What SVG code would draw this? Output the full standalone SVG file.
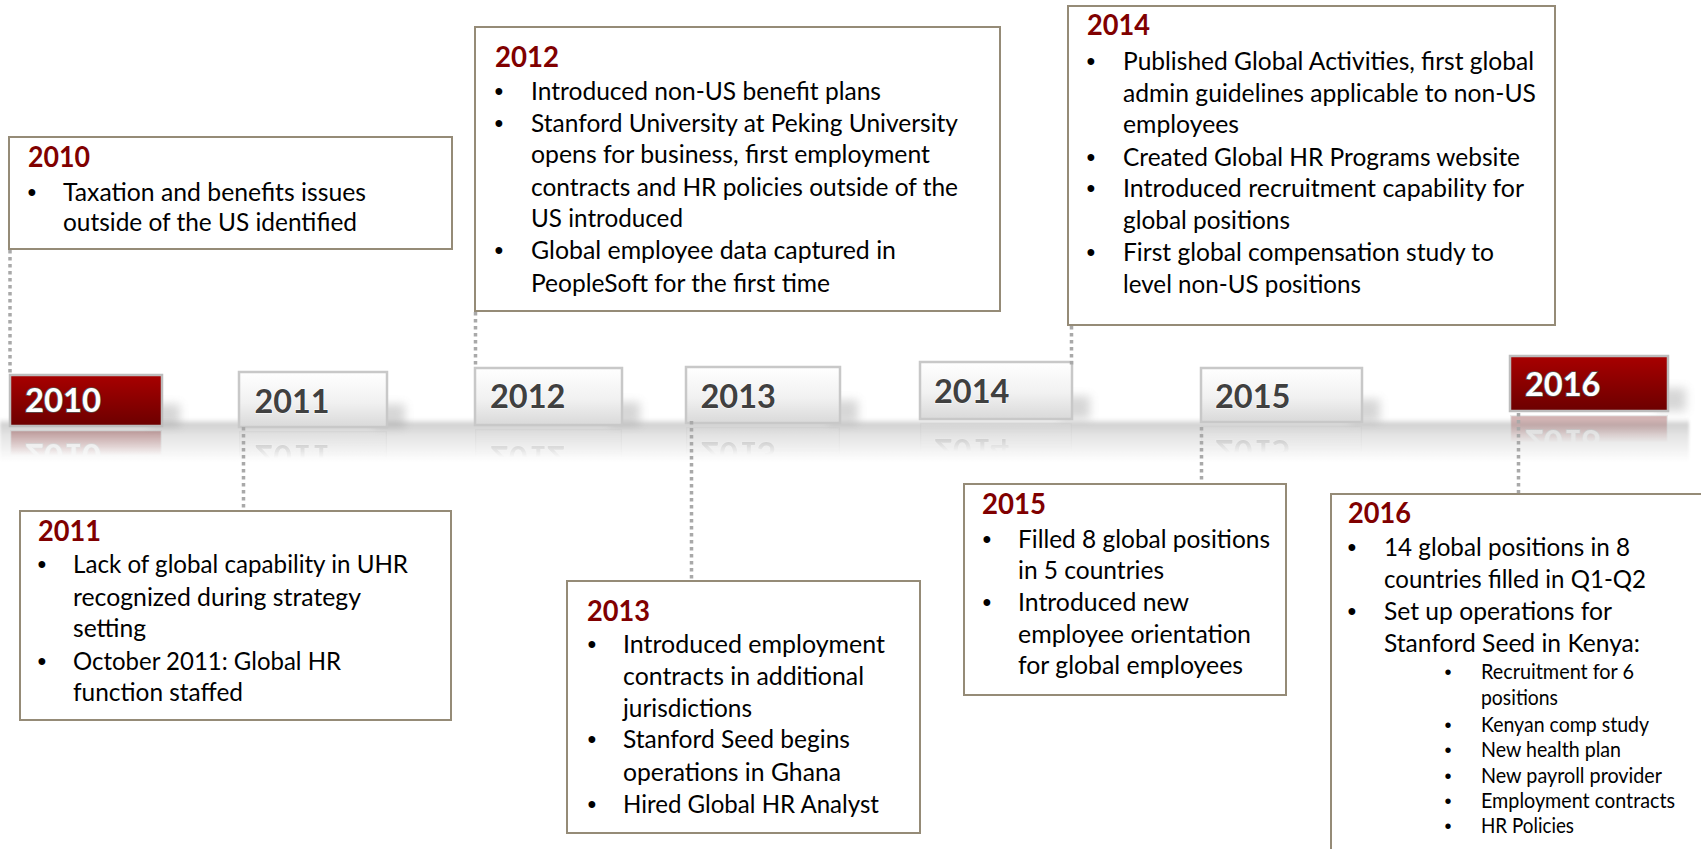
<svg xmlns="http://www.w3.org/2000/svg" xmlns:xlink="http://www.w3.org/1999/xlink" width="1701" height="849" viewBox="0 0 1701 849">
  <style>
    .box { fill: #ffffff; stroke: #958b77; stroke-width: 2; }
    .yr { font-family: Lato, "Open Sans", sans-serif; font-weight: bold; font-size: 28px; fill: #800000; }
    .tx { font-family: Lato, "Open Sans", sans-serif; font-size: 24.5px; fill: #000000; }
    .sm { font-family: Lato, "Open Sans", sans-serif; font-size: 20.5px; fill: #000000; }
    .bu { font-family: "Liberation Sans", Arial, sans-serif; font-size: 25px; fill: #000000; text-anchor: middle; }
    .bus { font-family: "Liberation Sans", Arial, sans-serif; font-size: 20px; fill: #000000; text-anchor: middle; }
    .lab { stroke: #c8c8c8; stroke-width: 2.5; }
    .labg { fill: url(#gGray); }
    .labr { fill: url(#gRed); stroke: #bdbdbd; }
    .ly { font-family: Lato, "Open Sans", sans-serif; font-weight: bold; font-size: 33px; fill: #404040; stroke: #ffffff; stroke-width: 1; paint-order: stroke; }
    .lyr { font-family: Lato, "Open Sans", sans-serif; font-weight: bold; font-size: 33px; fill: #ffffff; stroke: #555555; stroke-width: 1.6; paint-order: stroke; }
    .conn { fill: none; stroke: #a9a9a9; stroke-width: 3.5; stroke-dasharray: 3.5 3.5; }
    .shd { fill: #7a7a7a; opacity: 0.3; filter: url(#soft); }
  </style>
  <defs>
    <linearGradient id="gGray" x1="0" y1="0" x2="0" y2="1">
      <stop offset="0" stop-color="#ffffff"/>
      <stop offset="0.55" stop-color="#f1f1f1"/>
      <stop offset="1" stop-color="#d9d9d9"/>
    </linearGradient>
    <linearGradient id="gRed" x1="0" y1="0" x2="0" y2="1">
      <stop offset="0" stop-color="#a80000"/>
      <stop offset="1" stop-color="#6c0000"/>
    </linearGradient>
    <linearGradient id="gBand" x1="0" y1="0" x2="0" y2="1">
      <stop offset="0" stop-color="#ffffff"/>
      <stop offset="0.15" stop-color="#d2d2d2"/>
      <stop offset="0.4" stop-color="#e4e4e4"/>
      <stop offset="1" stop-color="#ffffff"/>
    </linearGradient>
    <linearGradient id="gFade" x1="0" y1="0" x2="0" y2="1">
      <stop offset="0" stop-color="#ffffff" stop-opacity="0"/>
      <stop offset="0.5" stop-color="#ffffff" stop-opacity="0"/>
      <stop offset="1" stop-color="#ffffff" stop-opacity="0.32"/>
    </linearGradient>
    <mask id="fade" maskContentUnits="objectBoundingBox">
      <rect x="0" y="0" width="1" height="1" fill="url(#gFade)"/>
    </mask>
    <filter id="soft" x="-50%" y="-50%" width="200%" height="200%">
      <feGaussianBlur stdDeviation="5"/>
    </filter>
    <filter id="bandBlur" x="-5%" y="-50%" width="110%" height="200%">
      <feGaussianBlur stdDeviation="1.5"/>
    </filter>
  </defs>

  <rect width="1701" height="849" fill="#ffffff"/>

  <!-- timeline band -->
  <rect x="0" y="418" width="1689" height="44" fill="url(#gBand)" filter="url(#bandBlur)"/>

  <!-- soft shadows cast to the right of the year labels -->
  <g id="label-shadows">
    <rect class="shd" x="150" y="404" width="30" height="22"/>
    <rect class="shd" x="375" y="404" width="30" height="23"/>
    <rect class="shd" x="610" y="402" width="30" height="23"/>
    <rect class="shd" x="828" y="400" width="30" height="23"/>
    <rect class="shd" x="1060" y="396" width="30" height="23"/>
    <rect class="shd" x="1350" y="399" width="30" height="23"/>
    <rect class="shd" x="1656" y="388" width="30" height="23"/>
  </g>

  <!-- year labels on the timeline -->
  <g id="lab-2010" transform="translate(10,375)">
    <rect class="lab labr" x="0" y="0" width="152" height="51"/>
    <text class="lyr" x="15" y="37" textLength="76" lengthAdjust="spacingAndGlyphs">2010</text>
  </g>
  <g id="lab-2011" transform="translate(239,372)">
    <rect class="lab labg" x="0" y="0" width="148" height="55"/>
    <text class="ly" x="15.5" y="40.7" textLength="75" lengthAdjust="spacingAndGlyphs">2011</text>
  </g>
  <g id="lab-2012" transform="translate(475,368)">
    <rect class="lab labg" x="0" y="0" width="147" height="57"/>
    <text class="ly" x="15" y="40.3" textLength="75.5" lengthAdjust="spacingAndGlyphs">2012</text>
  </g>
  <g id="lab-2013" transform="translate(686,367)">
    <rect class="lab labg" x="0" y="0" width="154" height="56"/>
    <text class="ly" x="14.5" y="41.3" textLength="75.5" lengthAdjust="spacingAndGlyphs">2013</text>
  </g>
  <g id="lab-2014" transform="translate(920,362)">
    <rect class="lab labg" x="0" y="0" width="152" height="57"/>
    <text class="ly" x="14" y="41.3" textLength="75.5" lengthAdjust="spacingAndGlyphs">2014</text>
  </g>
  <g id="lab-2015" transform="translate(1201,368)">
    <rect class="lab labg" x="0" y="0" width="161" height="54"/>
    <text class="ly" x="14" y="39.7" textLength="75.5" lengthAdjust="spacingAndGlyphs">2015</text>
  </g>
  <g id="lab-2016" transform="translate(1510,356)">
    <rect class="lab labr" x="0" y="0" width="158" height="55"/>
    <text class="lyr" x="15" y="40" textLength="75.5" lengthAdjust="spacingAndGlyphs">2016</text>
  </g>

  <!-- mirrored reflections under the labels -->
  <g id="reflections">
    <use xlink:href="#lab-2010" transform="translate(0,856) scale(1,-1)" mask="url(#fade)"/>
    <use xlink:href="#lab-2011" transform="translate(0,858) scale(1,-1)" mask="url(#fade)"/>
    <use xlink:href="#lab-2012" transform="translate(0,854) scale(1,-1)" mask="url(#fade)"/>
    <use xlink:href="#lab-2013" transform="translate(0,850) scale(1,-1)" mask="url(#fade)"/>
    <use xlink:href="#lab-2014" transform="translate(0,842) scale(1,-1)" mask="url(#fade)"/>
    <use xlink:href="#lab-2015" transform="translate(0,848) scale(1,-1)" mask="url(#fade)"/>
    <use xlink:href="#lab-2016" transform="translate(0,826) scale(1,-1)" mask="url(#fade)"/>
  </g>

  <!-- dotted leaders from labels to event boxes -->
  <g id="connectors">
    <line class="conn" x1="10" y1="250" x2="10" y2="375"/>
    <line class="conn" x1="243.5" y1="427" x2="243.5" y2="510"/>
    <line class="conn" x1="475.5" y1="312" x2="475.5" y2="368"/>
    <line class="conn" x1="691.5" y1="421" x2="691.5" y2="580"/>
    <line class="conn" x1="1071.5" y1="326" x2="1071.5" y2="367"/>
    <line class="conn" x1="1201.5" y1="427" x2="1201.5" y2="483"/>
    <line class="conn" x1="1518.5" y1="413" x2="1518.5" y2="493"/>
  </g>

  <!-- event boxes -->
  <g id="box-2010">
    <rect class="box" x="9" y="137" width="443" height="112"/>
    <text class="yr" x="28" y="166.7" textLength="62" lengthAdjust="spacingAndGlyphs">2010</text>
    <text class="bu" x="32" y="200.7">•</text>
    <text class="tx" x="63" y="200.7" textLength="303" lengthAdjust="spacingAndGlyphs">Taxation and benefits issues</text>
    <text class="tx" x="63" y="230.7" textLength="294" lengthAdjust="spacingAndGlyphs">outside of the US identified</text>
  </g>

  <g id="box-2012">
    <rect class="box" x="475" y="27" width="525" height="284"/>
    <text class="yr" x="495" y="66.7" textLength="64" lengthAdjust="spacingAndGlyphs">2012</text>
    <text class="bu" x="499" y="100">•</text>
    <text class="bu" x="499" y="131.7">•</text>
    <text class="bu" x="499" y="259.3">•</text>
    <text class="tx" x="531" y="100" textLength="350" lengthAdjust="spacingAndGlyphs">Introduced non-US benefit plans</text>
    <text class="tx" x="531" y="131.7" textLength="427" lengthAdjust="spacingAndGlyphs">Stanford University at Peking University</text>
    <text class="tx" x="531" y="163.3" textLength="399" lengthAdjust="spacingAndGlyphs">opens for business, first employment</text>
    <text class="tx" x="531" y="195.7" textLength="427" lengthAdjust="spacingAndGlyphs">contracts and HR policies outside of the</text>
    <text class="tx" x="531" y="227.3" textLength="152" lengthAdjust="spacingAndGlyphs">US introduced</text>
    <text class="tx" x="531" y="259.3" textLength="365" lengthAdjust="spacingAndGlyphs">Global employee data captured in</text>
    <text class="tx" x="531" y="291.7" textLength="299" lengthAdjust="spacingAndGlyphs">PeopleSoft for the first time</text>
  </g>

  <g id="box-2014">
    <rect class="box" x="1068" y="6" width="487" height="319"/>
    <text class="yr" x="1087" y="35" textLength="63" lengthAdjust="spacingAndGlyphs">2014</text>
    <text class="bu" x="1091" y="70">•</text>
    <text class="bu" x="1091" y="165.7">•</text>
    <text class="bu" x="1091" y="197.3">•</text>
    <text class="bu" x="1091" y="261">•</text>
    <text class="tx" x="1123" y="70" textLength="411" lengthAdjust="spacingAndGlyphs">Published Global Activities, first global</text>
    <text class="tx" x="1123" y="101.7" textLength="413" lengthAdjust="spacingAndGlyphs">admin guidelines applicable to non-US</text>
    <text class="tx" x="1123" y="133.3" textLength="116" lengthAdjust="spacingAndGlyphs">employees</text>
    <text class="tx" x="1123" y="165.7" textLength="397" lengthAdjust="spacingAndGlyphs">Created Global HR Programs website</text>
    <text class="tx" x="1123" y="197.3" textLength="401" lengthAdjust="spacingAndGlyphs">Introduced recruitment capability for</text>
    <text class="tx" x="1123" y="229.3" textLength="167" lengthAdjust="spacingAndGlyphs">global positions</text>
    <text class="tx" x="1123" y="261" textLength="371" lengthAdjust="spacingAndGlyphs">First global compensation study to</text>
    <text class="tx" x="1123" y="293.3" textLength="238" lengthAdjust="spacingAndGlyphs">level non-US positions</text>
  </g>

  <g id="box-2011">
    <rect class="box" x="20" y="511" width="431" height="209"/>
    <text class="yr" x="38" y="540.7" textLength="63" lengthAdjust="spacingAndGlyphs">2011</text>
    <text class="bu" x="42" y="573.3">•</text>
    <text class="bu" x="42" y="670">•</text>
    <text class="tx" x="73" y="573.3" textLength="335" lengthAdjust="spacingAndGlyphs">Lack of global capability in UHR</text>
    <text class="tx" x="73" y="605.7" textLength="288" lengthAdjust="spacingAndGlyphs">recognized during strategy</text>
    <text class="tx" x="73" y="636.7" textLength="73" lengthAdjust="spacingAndGlyphs">setting</text>
    <text class="tx" x="73" y="670" textLength="268" lengthAdjust="spacingAndGlyphs">October 2011: Global HR</text>
    <text class="tx" x="73" y="700.7" textLength="170" lengthAdjust="spacingAndGlyphs">function staffed</text>
  </g>

  <g id="box-2013">
    <rect class="box" x="567" y="581" width="353" height="252"/>
    <text class="yr" x="587" y="621" textLength="63" lengthAdjust="spacingAndGlyphs">2013</text>
    <text class="bu" x="592" y="653.3">•</text>
    <text class="bu" x="592" y="748.3">•</text>
    <text class="bu" x="592" y="812.7">•</text>
    <text class="tx" x="623" y="653.3" textLength="262" lengthAdjust="spacingAndGlyphs">Introduced employment</text>
    <text class="tx" x="623" y="685" textLength="241" lengthAdjust="spacingAndGlyphs">contracts in additional</text>
    <text class="tx" x="623" y="716.7" textLength="129" lengthAdjust="spacingAndGlyphs">jurisdictions</text>
    <text class="tx" x="623" y="748.3" textLength="227" lengthAdjust="spacingAndGlyphs">Stanford Seed begins</text>
    <text class="tx" x="623" y="780.7" textLength="218" lengthAdjust="spacingAndGlyphs">operations in Ghana</text>
    <text class="tx" x="623" y="812.7" textLength="256" lengthAdjust="spacingAndGlyphs">Hired Global HR Analyst</text>
  </g>

  <g id="box-2015">
    <rect class="box" x="964" y="484" width="322" height="211"/>
    <text class="yr" x="982" y="514.3" textLength="64" lengthAdjust="spacingAndGlyphs">2015</text>
    <text class="bu" x="987" y="548.3">•</text>
    <text class="bu" x="987" y="610.7">•</text>
    <text class="tx" x="1018" y="548.3" textLength="252" lengthAdjust="spacingAndGlyphs">Filled 8 global positions</text>
    <text class="tx" x="1018" y="579.3" textLength="146" lengthAdjust="spacingAndGlyphs">in 5 countries</text>
    <text class="tx" x="1018" y="610.7" textLength="171" lengthAdjust="spacingAndGlyphs">Introduced new</text>
    <text class="tx" x="1018" y="642.7" textLength="233" lengthAdjust="spacingAndGlyphs">employee orientation</text>
    <text class="tx" x="1018" y="674" textLength="225" lengthAdjust="spacingAndGlyphs">for global employees</text>
  </g>

  <g id="box-2016">
    <rect class="box" x="1331" y="494" width="420" height="400"/>
    <text class="yr" x="1348" y="523.3" textLength="63" lengthAdjust="spacingAndGlyphs">2016</text>
    <text class="bu" x="1352" y="556">•</text>
    <text class="bu" x="1352" y="620">•</text>
    <text class="tx" x="1384" y="556" textLength="246" lengthAdjust="spacingAndGlyphs">14 global positions in 8</text>
    <text class="tx" x="1384" y="588.3" textLength="262" lengthAdjust="spacingAndGlyphs">countries filled in Q1-Q2</text>
    <text class="tx" x="1384" y="620" textLength="228" lengthAdjust="spacingAndGlyphs">Set up operations for</text>
    <text class="tx" x="1384" y="652.3" textLength="256" lengthAdjust="spacingAndGlyphs">Stanford Seed in Kenya:</text>
    <text class="bus" x="1448" y="679.3">•</text>
    <text class="bus" x="1448" y="731.7">•</text>
    <text class="bus" x="1448" y="756.7">•</text>
    <text class="bus" x="1448" y="782.7">•</text>
    <text class="bus" x="1448" y="808.3">•</text>
    <text class="bus" x="1448" y="833.3">•</text>
    <text class="sm" x="1481" y="679.3" textLength="153" lengthAdjust="spacingAndGlyphs">Recruitment for 6</text>
    <text class="sm" x="1481" y="705" textLength="77" lengthAdjust="spacingAndGlyphs">positions</text>
    <text class="sm" x="1481" y="731.7" textLength="168" lengthAdjust="spacingAndGlyphs">Kenyan comp study</text>
    <text class="sm" x="1481" y="756.7" textLength="140" lengthAdjust="spacingAndGlyphs">New health plan</text>
    <text class="sm" x="1481" y="782.7" textLength="181" lengthAdjust="spacingAndGlyphs">New payroll provider</text>
    <text class="sm" x="1481" y="808.3" textLength="194" lengthAdjust="spacingAndGlyphs">Employment contracts</text>
    <text class="sm" x="1481" y="833.3" textLength="93" lengthAdjust="spacingAndGlyphs">HR Policies</text>
  </g>
</svg>
